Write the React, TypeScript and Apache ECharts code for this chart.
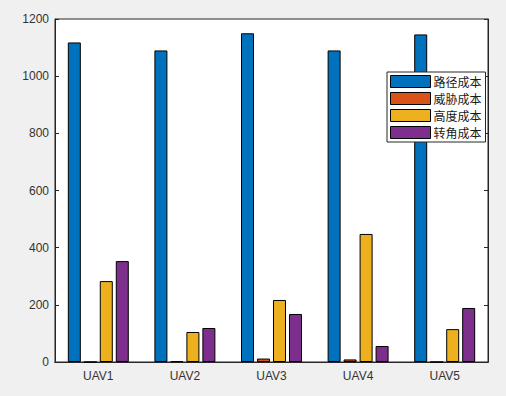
import React, { useEffect, useRef } from "react";
import * as echarts from "echarts";

const categories = ["UAV1", "UAV2", "UAV3", "UAV4", "UAV5"];
const seriesNames = ["路径成本", "威胁成本", "高度成本", "转角成本"];
const pathCost = [1118, 1090, 1150, 1090, 1146];
const threatCost = [0, 3, 12, 9, 0];
const heightCost = [283, 105, 217, 448, 115];
const turnCost = [353, 119, 168, 56, 189];
const colors = ["#0072BD", "#D95319", "#EDB120", "#7E2F8E"];
const yTicks = { min: 0, max: 1200, interval: 200 };

export default function App() {
  const ref = useRef<HTMLDivElement>(null);
  useEffect(() => {
    if (!ref.current) return;
    const chart = echarts.init(ref.current, undefined, { renderer: "svg" });
    const values = [pathCost, threatCost, heightCost, turnCost];
    const axisColor = "#262626";
    const labelFont = { fontFamily: "Liberation Sans, Arial, sans-serif", fontSize: 12, color: "#333333" };
    chart.setOption({
      animation: false,
      backgroundColor: "#f0f0f0",
      grid: {
        left: 55,
        top: 19,
        right: 18,
        bottom: 34,
        show: true,
        backgroundColor: "#ffffff",
        borderColor: axisColor,
        borderWidth: 1,
      },
      legend: {
        orient: "vertical",
        left: 387,
        top: 72,
        icon: "rect",
        itemWidth: 40,
        itemHeight: 12,
        itemGap: 4,
        padding: [3, 4, 3, 3],
        backgroundColor: "#ffffff",
        borderColor: "#262626",
        borderWidth: 1,
        borderRadius: 0,
        itemStyle: { borderColor: "#000", borderWidth: 1 },
        textStyle: { fontFamily: "Noto Sans CJK SC", fontSize: 12, color: "#1a1a1a", padding: [0, 0, 0, -2] },
        data: seriesNames,
      },
      xAxis: [
        {
          type: "category",
          data: categories,
          boundaryGap: true,
          axisLine: { lineStyle: { color: axisColor } },
          axisTick: { inside: true, alignWithLabel: true, length: 4, lineStyle: { color: axisColor } },
          axisLabel: { ...labelFont, margin: 8 },
        },
        {
          type: "category",
          data: categories,
          position: "top",
          boundaryGap: true,
          axisLine: { lineStyle: { color: axisColor } },
          axisTick: { inside: true, alignWithLabel: true, length: 4, lineStyle: { color: axisColor } },
          axisLabel: { show: false },
        },
      ],
      yAxis: [
        {
          type: "value",
          min: yTicks.min,
          max: yTicks.max,
          interval: yTicks.interval,
          axisLine: { show: true, lineStyle: { color: axisColor } },
          axisTick: { show: true, inside: true, length: 4, lineStyle: { color: axisColor } },
          axisLabel: { ...labelFont, margin: 6, formatter: (v: number) => String(v) },
          splitLine: { show: false },
        },
        {
          type: "value",
          position: "right",
          min: yTicks.min,
          max: yTicks.max,
          interval: yTicks.interval,
          axisLine: { show: true, lineStyle: { color: axisColor } },
          axisTick: { show: true, inside: true, length: 4, lineStyle: { color: axisColor } },
          axisLabel: { show: false },
          splitLine: { show: false },
        },
      ],
      series: seriesNames.map((name, i) => ({
        name,
        type: "bar",
        data: values[i],
        barWidth: 13,
        barGap: "23%",
        itemStyle: { color: colors[i], borderColor: "#000", borderWidth: 1 },
      })),
    });
    return () => chart.dispose();
  }, []);
  return (
    <div
      ref={ref}
      style={{ position: "absolute", left: 0, top: 0, width: 506, height: 396 }}
    />
  );
}
